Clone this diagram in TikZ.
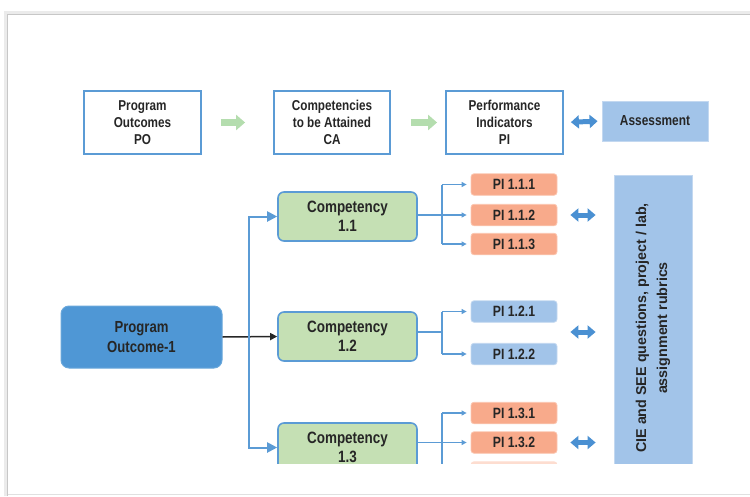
\documentclass[tikz,border=0pt]{standalone}
\usepackage{fontspec}
\setmainfont[FakeStretch=0.82]{Liberation Sans}
\newfontfamily\ciefont{Liberation Sans}
\usetikzlibrary{arrows.meta}
\definecolor{bblue}{HTML}{5B9BD5}
\definecolor{cgreen}{HTML}{C5E0B4}
\definecolor{piorange}{HTML}{F8AA8B}
\definecolor{piorangeb}{HTML}{FBC6B0}
\definecolor{lblue}{HTML}{A2C4E9}
\definecolor{lblueb}{HTML}{C3D8F0}
\definecolor{pofill}{HTML}{4F97D5}
\definecolor{dblue}{HTML}{4A90D2}
\definecolor{garrow}{HTML}{B4DDAE}
\definecolor{txt}{HTML}{262626}
\tikzset{
  topbox/.style={draw=bblue, line width=1.8pt, fill=white, minimum width=117pt, minimum height=63pt, inner sep=0pt, align=center, text=txt, font=\fontsize{14.3}{17}\selectfont\bfseries},
  compbox/.style={draw=bblue, line width=1.6pt, fill=cgreen, rounded corners=6pt, minimum width=139pt, minimum height=49pt, inner sep=0pt, align=center, text=txt, font=\fontsize{16.4}{19}\selectfont\bfseries},
  pibox/.style={draw=piorangeb, line width=0.8pt, fill=piorange, rounded corners=3pt, minimum width=86pt, minimum height=21.5pt, inner sep=0pt, text=txt, font=\fontsize{14.9}{17}\selectfont\bfseries},
  pibluebox/.style={pibox, draw=lblueb, fill=lblue},
  assbox/.style={draw=lblueb, line width=0.8pt, fill=lblue, inner sep=0pt, align=center, text=txt, font=\fontsize{14.5}{17}\selectfont\bfseries},
  pobox/.style={draw=pofill!85!white, line width=1pt, fill=pofill, rounded corners=8pt, minimum width=161pt, minimum height=62pt, inner sep=0pt, align=center, text=txt, font=\fontsize{16}{20}\selectfont\bfseries},
  thinarrow/.style={draw=bblue, line width=1.1pt, -{Triangle[length=5pt,width=5pt]}, shorten >=4pt},
  thinline/.style={draw=bblue, line width=1.1pt},
  leftarrow/.style={draw=bblue, line width=2pt, -{Triangle[length=10pt,width=10pt]}},
  blackarrow/.style={draw=txt, line width=1.5pt, -{Triangle[length=7pt,width=7pt]}},
  dblarrow/.style={draw=dblue, line width=5pt, {Triangle[length=8pt,width=13pt]}-{Triangle[length=8pt,width=13pt]}},
  greenarrow/.style={draw=garrow, line width=7pt, -{Triangle[length=9pt,width=15pt]}},
}
\begin{document}
\begin{tikzpicture}[x=1pt,y=-1pt]
\useasboundingbox (0,0) rectangle (750,496);
% frame
\draw[black!8, line width=4pt] (6,496) -- (6,13) -- (750,13);
\draw[black!22, line width=1.6pt] (7.5,496) -- (7.5,14.5) -- (750,14.5);
\draw[black!12, line width=1.2pt] (7.5,494.5) -- (750,494.5);
% top row
\node[topbox] (po) at (142.5,122.5) {Program\\Outcomes\\PO};
\node[topbox, minimum width=116pt] (ca) at (332,122.5) {Competencies\\to be Attained\\CA};
\node[topbox] (pi) at (504.5,122.5) {Performance\\Indicators\\PI};
\node[assbox, minimum width=106pt, minimum height=40pt] (ass) at (655,121) {Assessment};
\draw[greenarrow, shorten <=19pt, shorten >=28pt] (po.east) -- (ca.west);
\draw[greenarrow, shorten <=20pt, shorten >=8pt] (ca.east) -- (pi.west);
\draw[dblarrow, shorten <=7pt, shorten >=4pt] (pi.east) -- (ass.west);
\begin{scope}
\clip (0,0) rectangle (750,463);
\node[pobox] (po1) at (141.5,337) {Program\\Outcome-1};
\node[compbox] (c11) at (347.5,216.5) {Competency\\1.1};
\node[compbox] (c12) at (347.5,336.5) {Competency\\1.2};
\node[compbox] (c13) at (347.5,447.5) {Competency\\1.3};
\node[pibox] (p111) at (514,184.5) {PI 1.1.1};
\node[pibox] (p112) at (514,215) {PI 1.1.2};
\node[pibox] (p113) at (514,244) {PI 1.1.3};
\node[pibluebox] (p121) at (514,311.5) {PI 1.2.1};
\node[pibluebox] (p122) at (514,354) {PI 1.2.2};
\node[pibox] (p131) at (514,413) {PI 1.3.1};
\node[pibox] (p132) at (514,442.5) {PI 1.3.2};
\node[pibox, draw=piorangeb!60!white, fill=piorangeb!60!white] (p133) at (514,472.5) {};
\node[draw=lblueb, line width=0.8pt, fill=lblue, minimum width=78pt, minimum height=305pt, inner sep=0pt] (cie) at (653,328) {};
\node[rotate=90, align=center, text=txt, font=\ciefont\fontsize{14.3}{21}\selectfont\bfseries] (cietext) at (cie.center) {CIE and SEE questions, project / lab,\\assignment rubrics};
% left connectors
\coordinate (bx) at (249,337);
\draw[blackarrow] (po1.east) -- (c12.west);
\draw[leftarrow] (bx) |- (c11.west);
\draw[leftarrow] (bx) |- (c13.west);
% branches
\coordinate (b1) at (442,215);
\draw[thinline] (p112.west -| c11.east) -- (b1);
\draw[thinline] (b1 |- p111.west) -- (b1 |- p113.west);
\draw[thinarrow] (b1 |- p111.west) -- (p111.west);
\draw[thinarrow] (b1) -- (p112.west);
\draw[thinarrow] (b1 |- p113.west) -- (p113.west);
\coordinate (b2) at (442,332);
\draw[thinline] (b2 -| c12.east) -- (b2);
\draw[thinline] (b2 |- p121.west) -- (b2 |- p122.west);
\draw[thinarrow] (b2 |- p121.west) -- (p121.west);
\draw[thinarrow] (b2 |- p122.west) -- (p122.west);
\coordinate (b3) at (442,442.5);
\draw[thinline] (p132.west -| c13.east) -- (b3);
\draw[thinline] (b3 |- p131.west) -- (b3 |- p133.west);
\draw[thinarrow] (b3 |- p131.west) -- (p131.west);
\draw[thinarrow] (b3) -- (p132.west);
\draw[thinarrow] (b3 |- p133.west) -- (p133.west);
% double arrows
\draw[dblarrow, shorten <=13pt, shorten >=18pt] (p112.east) -- (p112.east -| cie.west);
\draw[dblarrow, shorten <=13pt, shorten >=18pt] (p121.east |- b2) -- (b2 -| cie.west);
\draw[dblarrow, shorten <=13pt, shorten >=18pt] (p132.east) -- (p132.east -| cie.west);
\end{scope}
\end{tikzpicture}
\end{document}
